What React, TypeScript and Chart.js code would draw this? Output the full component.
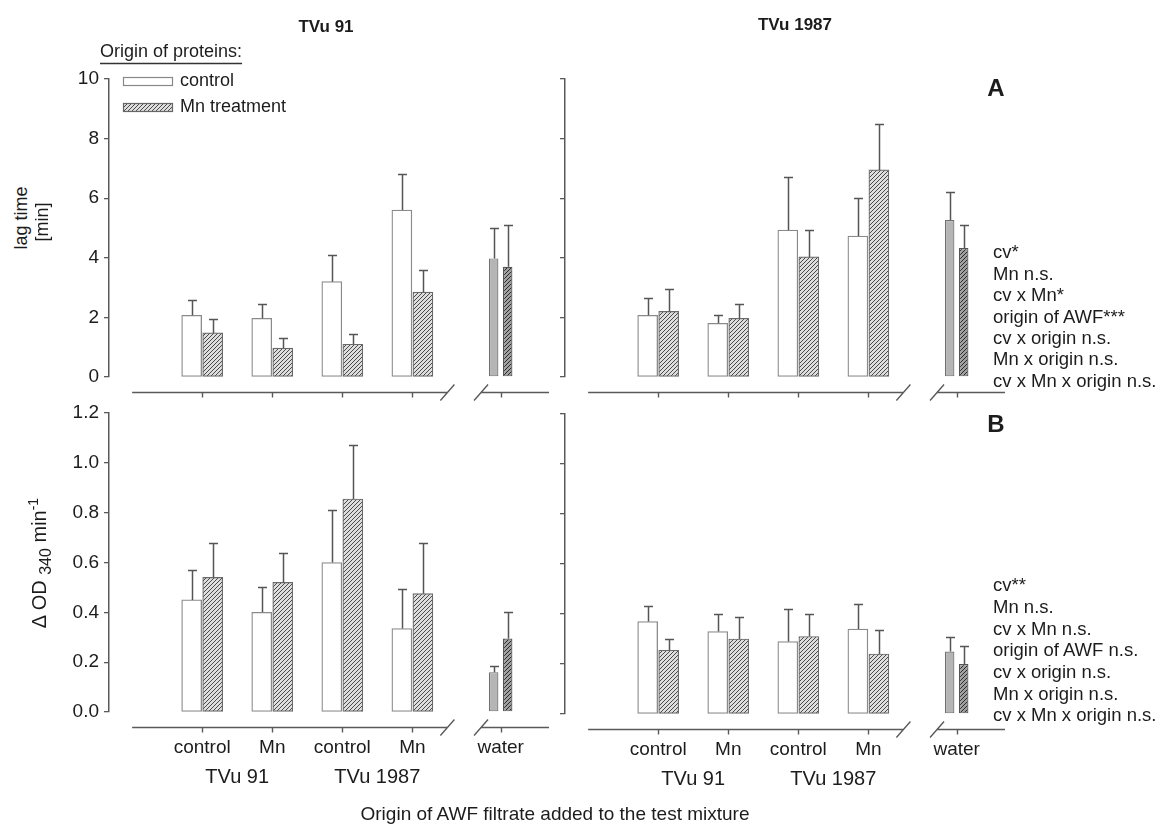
import React, { useEffect, useRef } from "react";
import { Chart, registerables } from "chart.js";

Chart.register(...registerables);

const FONT = "'Liberation Sans', Arial, Helvetica, sans-serif";
const INK = "#1c1c1c";
const AXIS = "#5a5a5a";
const ERR = "#555555";

// ---------- text / categories ----------
const filtrateLabels = ["control", "Mn", "control", "Mn"];
const waterLabel = "water";
const originLabels = ["TVu 91", "TVu 1987"];
const cultivarTitles = ["TVu 91", "TVu 1987"];
const legendTitle = "Origin of proteins:";
const legendLabels = ["control", "Mn treatment"];
const xAxisTitle = "Origin of AWF filtrate added to the test mixture";
const statsA = ["cv*", "Mn n.s.", "cv x Mn*", "origin of AWF***", "cv x origin n.s.", "Mn x origin n.s.", "cv x Mn x origin n.s."];
const statsB = ["cv**", "Mn n.s.", "cv x Mn n.s.", "origin of AWF n.s.", "cv x origin n.s.", "Mn x origin n.s.", "cv x Mn x origin n.s."];

// ---------- Panel A: lag time [min] ----------
const lagTicks = [0, 2, 4, 6, 8, 10];
const lag91Control = [2.07, 1.97, 3.2, 5.6];
const lag91ControlSE = [0.53, 0.48, 0.9, 1.2];
const lag91Mn = [1.48, 0.97, 1.1, 2.85];
const lag91MnSE = [0.47, 0.33, 0.35, 0.73];
const lag91Water = [3.98, 3.7];
const lag91WaterSE = [1.02, 1.4];

const lag1987Control = [2.07, 1.8, 4.93, 4.73];
const lag1987ControlSE = [0.58, 0.27, 1.77, 1.27];
const lag1987Mn = [2.2, 1.97, 4.03, 6.95];
const lag1987MnSE = [0.75, 0.48, 0.9, 1.55];
const lag1987Water = [5.27, 4.33];
const lag1987WaterSE = [0.93, 0.77];

// ---------- Panel B: delta OD340 per min ----------
const odTicks = [0, 0.2, 0.4, 0.6, 0.8, 1.0, 1.2];
const od91Control = [0.45, 0.4, 0.6, 0.335];
const od91ControlSE = [0.12, 0.1, 0.21, 0.16];
const od91Mn = [0.54, 0.52, 0.855, 0.475];
const od91MnSE = [0.14, 0.12, 0.215, 0.205];
const od91Water = [0.16, 0.295];
const od91WaterSE = [0.025, 0.105];

const od1987Control = [0.37, 0.33, 0.29, 0.34];
const od1987ControlSE = [0.06, 0.07, 0.13, 0.1];
const od1987Mn = [0.255, 0.3, 0.31, 0.24];
const od1987MnSE = [0.045, 0.09, 0.09, 0.095];
const od1987Water = [0.25, 0.2];
const od1987WaterSE = [0.06, 0.07];

// ---------- layout constants ----------
const Y_W = 70;
const X_H = 90;
const PAD_R = 8;
const PLOT_W = 440;
const X_MIN = -0.33;
const X_MAX = 5.95;
const BAR_OFF = 0.15;
const WATER_POS = 5.26;
const WATER_OFF = 0.1;
const AXIS_DROP = 15;
const LINE_START = 0;
const BREAK_A = 4.5;
const BREAK_B = 4.98;
const CAP = 4.5;

function makeHatch(bg: string, fg: string, size: number, lw: number): any {
  const c = document.createElement("canvas");
  c.width = size;
  c.height = size;
  const g = c.getContext("2d");
  if (!g) return bg;
  g.fillStyle = bg;
  g.fillRect(0, 0, size, size);
  g.strokeStyle = fg;
  g.lineWidth = lw;
  g.beginPath();
  g.moveTo(-1, size + 1);
  g.lineTo(size + 1, -1);
  g.moveTo(-1, 1);
  g.lineTo(1, -1);
  g.moveTo(size - 1, size + 1);
  g.lineTo(size + 1, size - 1);
  g.stroke();
  return g.createPattern(c, "repeat") || bg;
}

type PanelProps = {
  axisX: number;
  plotTop: number;
  plotBottom: number;
  padTop: number;
  yMax: number;
  yTicks: number[];
  yDecimals: number;
  showYLabels: boolean;
  showXLabels: boolean;
  control: number[];
  controlSE: number[];
  mn: number[];
  mnSE: number[];
  water: number[];
  waterSE: number[];
  legend?: boolean;
};

function Panel(p: PanelProps) {
  const ref = useRef<HTMLCanvasElement>(null);
  const width = Y_W + PLOT_W + PAD_R;
  const height = p.padTop + (p.plotBottom - p.plotTop) + X_H;
  const left = p.axisX - Y_W;
  const top = p.plotTop - p.padTop;

  useEffect(() => {
    const canvas = ref.current;
    if (!canvas) return;
    const hatch = makeHatch("#dedede", "#4a4a4a", 4, 1);
    const darkHatch = makeHatch("#a0a0a0", "#2a2a2a", 4, 1);
    const xTickVals = [...filtrateLabels.map((_, i) => i + 1), WATER_POS];
    const xTickText = [...filtrateLabels, waterLabel];

    const extras = {
      id: "extras",
      afterDatasetsDraw(chart: any) {
        const ctx = chart.ctx;
        const ys = chart.scales.y;
        ctx.save();
        ctx.strokeStyle = ERR;
        ctx.lineWidth = 1.5;
        chart.data.datasets.forEach((ds: any, di: number) => {
          const meta = chart.getDatasetMeta(di);
          meta.data.forEach((el: any, j: number) => {
            const v = ds.data[j].y + ds.errors[j];
            const yt = Math.round(ys.getPixelForValue(v)) + 0.5;
            const xc = Math.round(el.x) + 0.5;
            ctx.beginPath();
            ctx.moveTo(xc, el.y);
            ctx.lineTo(xc, yt);
            ctx.moveTo(xc - CAP, yt);
            ctx.lineTo(xc + CAP, yt);
            ctx.stroke();
          });
        });
        ctx.restore();
      },
      afterDraw(chart: any) {
        const ctx = chart.ctx;
        const xs = chart.scales.x;
        const ca = chart.chartArea;
        const y0 = Math.round(ca.bottom + AXIS_DROP) + 0.5;
        const px = (v: number) => xs.getPixelForValue(v);
        ctx.save();
        ctx.strokeStyle = AXIS;
        ctx.lineWidth = 1.4;
        ctx.beginPath();
        ctx.moveTo(px(LINE_START), y0);
        ctx.lineTo(px(BREAK_A), y0);
        ctx.moveTo(px(BREAK_B), y0);
        ctx.lineTo(px(X_MAX), y0);
        for (const b of [BREAK_A, BREAK_B]) {
          const bx = px(b);
          ctx.moveTo(bx - 7, y0 + 8);
          ctx.lineTo(bx + 7, y0 - 8);
        }
        for (const v of xTickVals) {
          const tx = Math.round(px(v)) + 0.5;
          ctx.moveTo(tx, y0);
          ctx.lineTo(tx, y0 + 5);
        }
        ctx.stroke();

        if (p.showXLabels) {
          ctx.fillStyle = INK;
          ctx.font = `20px ${FONT}`;
          ctx.textAlign = "center";
          ctx.textBaseline = "middle";
          ctx.fillText(originLabels[0], (px(1) + px(2)) / 2, ca.bottom + 65);
          ctx.fillText(originLabels[1], (px(3) + px(4)) / 2, ca.bottom + 65);
        }

        if (p.legend) {
          const L = (x: number) => x - left;
          const T = (y: number) => y - top;
          ctx.fillStyle = INK;
          ctx.font = `18px ${FONT}`;
          ctx.textAlign = "left";
          ctx.textBaseline = "middle";
          ctx.fillText(legendTitle, L(100), T(52));
          const w = ctx.measureText(legendTitle).width;
          ctx.strokeStyle = "#333";
          ctx.lineWidth = 1.3;
          ctx.beginPath();
          ctx.moveTo(L(100), T(63) + 0.5);
          ctx.lineTo(L(100) + w, T(63) + 0.5);
          ctx.stroke();

          ctx.lineWidth = 1.2;
          ctx.strokeStyle = "#888";
          ctx.fillStyle = "#ffffff";
          ctx.fillRect(L(123), T(77), 49, 8);
          ctx.strokeRect(L(123) + 0.5, T(77) + 0.5, 49, 8);
          ctx.fillStyle = hatch;
          ctx.fillRect(L(123), T(103), 49, 8);
          ctx.strokeStyle = "#666";
          ctx.strokeRect(L(123) + 0.5, T(103) + 0.5, 49, 8);

          ctx.fillStyle = INK;
          ctx.fillText(legendLabels[0], L(180), T(81));
          ctx.fillText(legendLabels[1], L(180), T(107));
        }
        ctx.restore();
      },
    };

    const chart = new Chart(canvas, {
      type: "bar",
      data: {
        datasets: [
          {
            label: legendLabels[0],
            data: p.control.map((v, i) => ({ x: i + 1 - BAR_OFF, y: v })),
            errors: p.controlSE,
            backgroundColor: "#ffffff",
            borderColor: "#8a8a8a",
            borderWidth: 1.3,
            borderSkipped: false,
            barThickness: 20,
            maxBarThickness: 20,
            grouped: false,
            xAxisID: "x",
          } as any,
          {
            label: legendLabels[1],
            data: p.mn.map((v, i) => ({ x: i + 1 + BAR_OFF, y: v })),
            errors: p.mnSE,
            backgroundColor: hatch,
            borderColor: "#6a6a6a",
            borderWidth: 1.2,
            borderSkipped: false,
            barThickness: 20,
            maxBarThickness: 20,
            grouped: false,
            xAxisID: "x",
          } as any,
          {
            label: waterLabel + " " + legendLabels[0],
            data: [{ x: WATER_POS - WATER_OFF, y: p.water[0] }],
            errors: [p.waterSE[0]],
            backgroundColor: "#b5b5b5",
            borderColor: "#707070",
            borderWidth: 1.2,
            borderSkipped: false,
            maxBarThickness: 9.5,
            grouped: false,
            xAxisID: "x2",
          } as any,
          {
            label: waterLabel + " " + legendLabels[1],
            data: [{ x: WATER_POS + WATER_OFF, y: p.water[1] }],
            errors: [p.waterSE[1]],
            backgroundColor: darkHatch,
            borderColor: "#555",
            borderWidth: 1.2,
            borderSkipped: false,
            maxBarThickness: 9.5,
            grouped: false,
            xAxisID: "x2",
          } as any,
        ],
      },
      options: {
        responsive: false,
        animation: false,
        events: [],
        layout: { padding: { top: p.padTop, right: PAD_R, left: 0, bottom: 0 } },
        plugins: { legend: { display: false }, tooltip: { enabled: false } },
        scales: {
          x: {
            type: "linear",
            min: X_MIN,
            max: X_MAX,
            offset: false,
            afterBuildTicks: (s: any) => {
              s.ticks = xTickVals.map((v) => ({ value: v }));
            },
            afterFit: (s: any) => {
              s.height = X_H;
            },
            ticks: {
              display: p.showXLabels,
              autoSkip: false,
              maxRotation: 0,
              minRotation: 0,
              padding: 24,
              color: INK,
              font: { family: FONT, size: 19 },
              callback: (_v: any, i: number) => xTickText[i],
            },
            grid: { display: false, drawTicks: false },
            border: { display: false },
          },
          x2: {
            type: "linear",
            display: false,
            min: X_MIN,
            max: X_MAX,
            offset: false,
          },
          y: {
            type: "linear",
            min: 0,
            max: p.yMax,
            afterBuildTicks: (s: any) => {
              s.ticks = p.yTicks.map((v) => ({ value: v }));
            },
            afterFit: (s: any) => {
              s.width = Y_W;
            },
            ticks: {
              display: p.showYLabels,
              padding: 5,
              color: INK,
              font: { family: FONT, size: 19 },
              callback: (v: any) => Number(v).toFixed(p.yDecimals),
            },
            grid: { drawOnChartArea: false, drawTicks: true, tickLength: 5, color: AXIS, lineWidth: 1.3 },
            border: { display: true, color: AXIS, width: 1.5 },
          },
        } as any,
      },
      plugins: [extras as any],
    });
    return () => chart.destroy();
  }, []);

  return (
    <canvas
      ref={ref}
      width={width}
      height={height}
      style={{ position: "absolute", left, top, width, height }}
    />
  );
}

function Txt(props: { x: number; y: number; size: number; bold?: boolean; children: any; rotate?: boolean }) {
  return (
    <div
      style={{
        position: "absolute",
        left: props.x,
        top: props.y,
        transform: props.rotate ? "translate(-50%,-50%) rotate(-90deg)" : "translate(-50%,-50%)",
        fontFamily: FONT,
        fontSize: props.size,
        fontWeight: props.bold ? "bold" : "normal",
        color: INK,
        whiteSpace: "nowrap",
        lineHeight: 1,
      }}
    >
      {props.children}
    </div>
  );
}

function Stats(props: { lines: string[]; x: number; firstY: number; lh: number }) {
  return (
    <div
      style={{
        position: "absolute",
        left: props.x,
        top: props.firstY - props.lh / 2,
        fontFamily: FONT,
        fontSize: 18.5,
        lineHeight: `${props.lh}px`,
        color: INK,
        whiteSpace: "nowrap",
      }}
    >
      {props.lines.map((l, i) => (
        <div key={i}>{l}</div>
      ))}
    </div>
  );
}

export default function App() {
  return (
    <div
      style={{
        position: "absolute",
        left: 0,
        top: 0,
        width: 1161,
        height: 824,
        background: "#ffffff",
        overflow: "hidden",
      }}
    >
      <Panel
        axisX={109}
        plotTop={79}
        plotBottom={377}
        padTop={79}
        yMax={10}
        yTicks={lagTicks}
        yDecimals={0}
        showYLabels={true}
        showXLabels={false}
        control={lag91Control}
        controlSE={lag91ControlSE}
        mn={lag91Mn}
        mnSE={lag91MnSE}
        water={lag91Water}
        waterSE={lag91WaterSE}
        legend={true}
      />
      <Panel
        axisX={565}
        plotTop={79}
        plotBottom={377}
        padTop={79}
        yMax={10}
        yTicks={lagTicks}
        yDecimals={0}
        showYLabels={false}
        showXLabels={false}
        control={lag1987Control}
        controlSE={lag1987ControlSE}
        mn={lag1987Mn}
        mnSE={lag1987MnSE}
        water={lag1987Water}
        waterSE={lag1987WaterSE}
      />
      <Panel
        axisX={109}
        plotTop={413}
        plotBottom={712}
        padTop={20}
        yMax={1.2}
        yTicks={odTicks}
        yDecimals={1}
        showYLabels={true}
        showXLabels={true}
        control={od91Control}
        controlSE={od91ControlSE}
        mn={od91Mn}
        mnSE={od91MnSE}
        water={od91Water}
        waterSE={od91WaterSE}
      />
      <Panel
        axisX={565}
        plotTop={414}
        plotBottom={714}
        padTop={20}
        yMax={1.2}
        yTicks={odTicks}
        yDecimals={1}
        showYLabels={false}
        showXLabels={true}
        control={od1987Control}
        controlSE={od1987ControlSE}
        mn={od1987Mn}
        mnSE={od1987MnSE}
        water={od1987Water}
        waterSE={od1987WaterSE}
      />

      <Txt x={326} y={26} size={17} bold>{cultivarTitles[0]}</Txt>
      <Txt x={795} y={24} size={17} bold>{cultivarTitles[1]}</Txt>
      <Txt x={996} y={88} size={24} bold>A</Txt>
      <Txt x={996} y={424} size={24} bold>B</Txt>

      <Txt x={21} y={218} size={18} rotate>lag time</Txt>
      <Txt x={42} y={222} size={18} rotate>[min]</Txt>
      <Txt x={40} y={563} size={20} rotate>
        <span>Δ OD </span>
        <sub style={{ fontSize: "0.8em" }}>340</sub>
        <span> min</span>
        <sup style={{ fontSize: "0.7em" }}>-1</sup>
      </Txt>

      <Stats lines={statsA} x={993} firstY={252} lh={21.4} />
      <Stats lines={statsB} x={993} firstY={585} lh={21.7} />

      <Txt x={555} y={813} size={19}>{xAxisTitle}</Txt>
    </div>
  );
}
